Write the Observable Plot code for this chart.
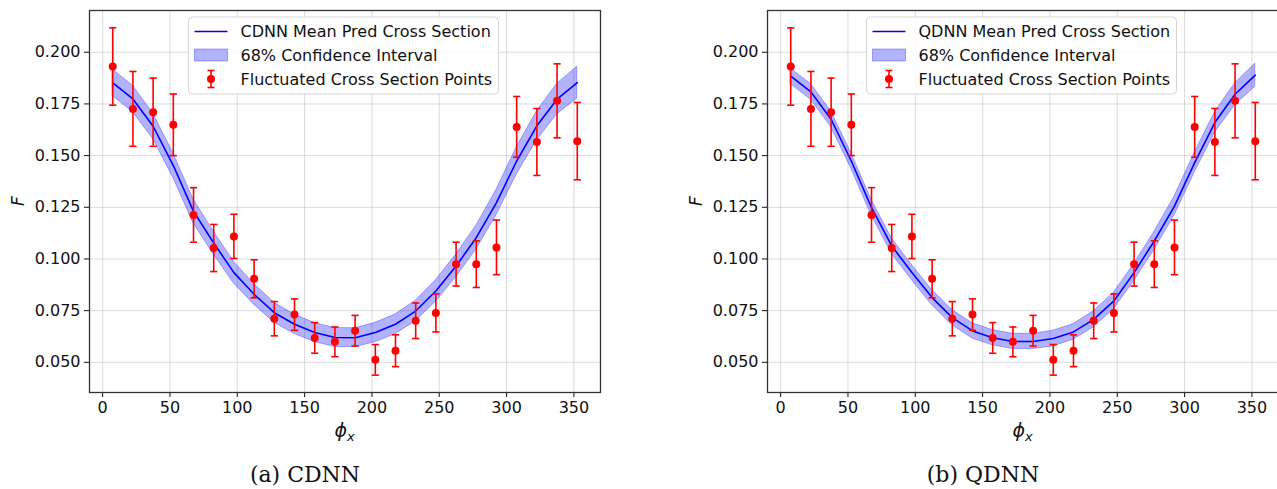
<!DOCTYPE html>
<html>
<head>
<meta charset="utf-8">
<script src="https://cdn.jsdelivr.net/npm/d3@7"></script>
<script src="https://cdn.jsdelivr.net/npm/@observablehq/plot@0.6"></script>
<style>
  html, body { margin: 0; padding: 0; background: #fff; overflow: hidden; }
  #row { display: flex; width: 1400px; }
  .fig { position: relative; width: 678px; height: 489px; flex: none; }
  .caption {
    position: absolute; left: 0; top: 461px; width: 610px;
    text-align: center; font-family: "DejaVu Serif", serif; font-size: 22px;
    line-height: 28px; color: #111;
  }
</style>
</head>
<body>
<div id="row"></div>
<script>
// Azimuthal angle bins (degrees)
const phi = [7.5, 22.5, 37.5, 52.5, 67.5, 82.5, 97.5, 112.5, 127.5, 142.5, 157.5, 172.5,
             187.5, 202.5, 217.5, 232.5, 247.5, 262.5, 277.5, 292.5, 307.5, 322.5, 337.5, 352.5];

// Fluctuated cross-section points and their uncertainties
const pointsF = [0.1931, 0.1726, 0.1710, 0.1649, 0.1213, 0.1053, 0.1109, 0.0904, 0.0711, 0.0731, 0.0618, 0.0599,
                 0.0653, 0.0512, 0.0556, 0.0701, 0.0739, 0.0975, 0.0975, 0.1056, 0.1639, 0.1566, 0.1765, 0.1570];
const pointsErr = [0.0187, 0.0181, 0.0165, 0.0149, 0.0132, 0.0114, 0.0107, 0.0092, 0.0083, 0.0076, 0.0074, 0.0072,
                   0.0074, 0.0074, 0.0077, 0.0086, 0.0092, 0.0106, 0.0113, 0.0132, 0.0147, 0.0162, 0.0179, 0.0187];

// CDNN mean prediction and 1-sigma band half-width
const cdnnMean = [0.1852, 0.1774, 0.1642, 0.1452, 0.1230, 0.1077, 0.0934, 0.0829, 0.0740, 0.0684, 0.0644, 0.0620,
                  0.0619, 0.0644, 0.0684, 0.0748, 0.0845, 0.0966, 0.1103, 0.1273, 0.1474, 0.1644, 0.1773, 0.1853];
const cdnnSd = [0.0064, 0.0064, 0.0062, 0.0060, 0.0058, 0.0056, 0.0053, 0.0050, 0.0048, 0.0047, 0.0046, 0.0046,
                0.0046, 0.0047, 0.0048, 0.0050, 0.0052, 0.0055, 0.0058, 0.0062, 0.0066, 0.0070, 0.0074, 0.0077];

// QDNN mean prediction and 1-sigma band half-width
const qdnnMean = [0.1884, 0.1808, 0.1676, 0.1474, 0.1248, 0.1063, 0.0934, 0.0813, 0.0716, 0.0652, 0.0619, 0.0601,
                  0.0601, 0.0615, 0.0647, 0.0708, 0.0797, 0.0934, 0.1087, 0.1256, 0.1466, 0.1660, 0.1797, 0.1889];
const qdnnSd = [0.0038, 0.0038, 0.0038, 0.0038, 0.0038, 0.0037, 0.0037, 0.0037, 0.0037, 0.0037, 0.0037, 0.0037,
                0.0037, 0.0038, 0.0038, 0.0039, 0.0040, 0.0042, 0.0044, 0.0046, 0.0048, 0.0050, 0.0053, 0.0056];

// Axis ticks
const xTicks = [0, 50, 100, 150, 200, 250, 300, 350];
const yTicks = [0.050, 0.075, 0.100, 0.125, 0.150, 0.175, 0.200];

const M = { left: 89, right: 78, top: 10, bottom: 58 };
const W = 678, H = 450;

// horizontal cap drawn at each error-bar end
const capSymbol = { draw(ctx) { ctx.moveTo(-3.6, 0); ctx.lineTo(3.6, 0); } };

function panel(model, mean, sd, caption) {
  const curve = phi.map((x, i) => ({ x, m: mean[i], lo: mean[i] - sd[i], hi: mean[i] + sd[i] }));
  const pts = phi.map((x, i) => ({ x, f: pointsF[i], lo: pointsF[i] - pointsErr[i], hi: pointsF[i] + pointsErr[i] }));

  const svg = Plot.plot({
    width: W, height: H,
    marginLeft: M.left, marginRight: M.right, marginTop: M.top, marginBottom: M.bottom,
    style: { fontFamily: "DejaVu Sans, sans-serif", fontSize: "16px", color: "#111", background: "white", overflow: "visible" },
    x: { domain: [-9.75, 369.75] },
    y: { domain: [0.0354, 0.2202] },
    marks: [
      Plot.gridX({ ticks: xTicks, stroke: "#b0b0b0", strokeOpacity: 0.45, strokeWidth: 1 }),
      Plot.gridY({ ticks: yTicks, stroke: "#b0b0b0", strokeOpacity: 0.45, strokeWidth: 1 }),
      Plot.areaY(curve, { x: "x", y1: "lo", y2: "hi", fill: "blue", fillOpacity: 0.3, stroke: "blue", strokeOpacity: 0.3, strokeWidth: 1 }),
      Plot.lineY(curve, { x: "x", y: "m", stroke: "blue", strokeWidth: 1.6 }),
      Plot.ruleX(pts, { x: "x", y1: "lo", y2: "hi", stroke: "red", strokeWidth: 1.6 }),
      Plot.dot(pts, { x: "x", y: "lo", symbol: capSymbol, fill: "none", stroke: "red", strokeWidth: 1.6 }),
      Plot.dot(pts, { x: "x", y: "hi", symbol: capSymbol, fill: "none", stroke: "red", strokeWidth: 1.6 }),
      Plot.dot(pts, { x: "x", y: "f", r: 4, fill: "red", stroke: "none" }),
      Plot.axisX({ ticks: xTicks, tickSize: 5, tickPadding: 4, label: null, fontSize: 16 }),
      Plot.axisY({ ticks: yTicks, tickFormat: d3.format(".3f"), tickSize: 5, tickPadding: 4, label: null, fontSize: 16 }),
      Plot.frame({ stroke: "#333", strokeWidth: 1.3 })
    ]
  });

  const s = d3.select(svg);
  const plotW = W - M.left - M.right;

  // x-axis title: phi with subscript x
  const xl = s.append("text")
    .attr("x", M.left + plotW / 2).attr("y", 437)
    .attr("text-anchor", "middle")
    .attr("font-family", "DejaVu Sans, sans-serif")
    .attr("font-size", 19).attr("font-style", "italic").attr("fill", "#111");
  xl.append("tspan").text("\u03D5");
  xl.append("tspan").attr("font-size", 13).attr("dy", 4).text("x");

  // y-axis title
  s.append("text")
    .attr("transform", `translate(${M.left - 65},${M.top + (H - M.top - M.bottom) / 2}) rotate(-90)`)
    .attr("text-anchor", "middle")
    .attr("font-family", "DejaVu Sans, sans-serif")
    .attr("font-size", 17).attr("font-style", "italic").attr("fill", "#111")
    .text("F");

  // legend box in the upper middle of the axes
  const g = s.append("g").attr("transform", `translate(${M.left + 99.5},${M.top + 7})`)
    .attr("font-family", "DejaVu Sans, sans-serif").attr("font-size", 16)
    .attr("text-anchor", "start");
  g.append("rect").attr("width", 310).attr("height", 77).attr("rx", 4)
    .attr("fill", "white").attr("fill-opacity", 0.85).attr("stroke", "#d6d6d6").attr("stroke-width", 1);
  const rows = [14.5, 38, 62];
  g.append("line").attr("x1", 6).attr("x2", 39).attr("y1", rows[0]).attr("y2", rows[0])
    .attr("stroke", "blue").attr("stroke-width", 1.6);
  g.append("rect").attr("x", 6).attr("y", rows[1] - 6).attr("width", 33).attr("height", 12)
    .attr("fill", "blue").attr("fill-opacity", 0.3).attr("stroke", "blue").attr("stroke-opacity", 0.3);
  g.append("line").attr("x1", 22.5).attr("x2", 22.5).attr("y1", rows[2] - 8.5).attr("y2", rows[2] + 8.5)
    .attr("stroke", "red").attr("stroke-width", 1.6);
  for (const dy of [-8.5, 8.5]) {
    g.append("line").attr("x1", 19).attr("x2", 26).attr("y1", rows[2] + dy).attr("y2", rows[2] + dy)
      .attr("stroke", "red").attr("stroke-width", 1.6);
  }
  g.append("circle").attr("cx", 22.5).attr("cy", rows[2]).attr("r", 4).attr("fill", "red");
  const labels = [`${model} Mean Pred Cross Section`, "68% Confidence Interval", "Fluctuated Cross Section Points"];
  labels.forEach((t, i) => {
    g.append("text").attr("x", 52).attr("y", rows[i]).attr("dy", "0.35em")
      .attr("text-anchor", "start").attr("fill", "#111").text(t);
  });

  const fig = document.createElement("div");
  fig.className = "fig";
  fig.appendChild(svg);
  const capEl = document.createElement("div");
  capEl.className = "caption";
  capEl.textContent = caption;
  fig.appendChild(capEl);
  document.getElementById("row").appendChild(fig);
}

panel("CDNN", cdnnMean, cdnnSd, "(a) CDNN");
panel("QDNN", qdnnMean, qdnnSd, "(b) QDNN");
</script>
</body>
</html>
